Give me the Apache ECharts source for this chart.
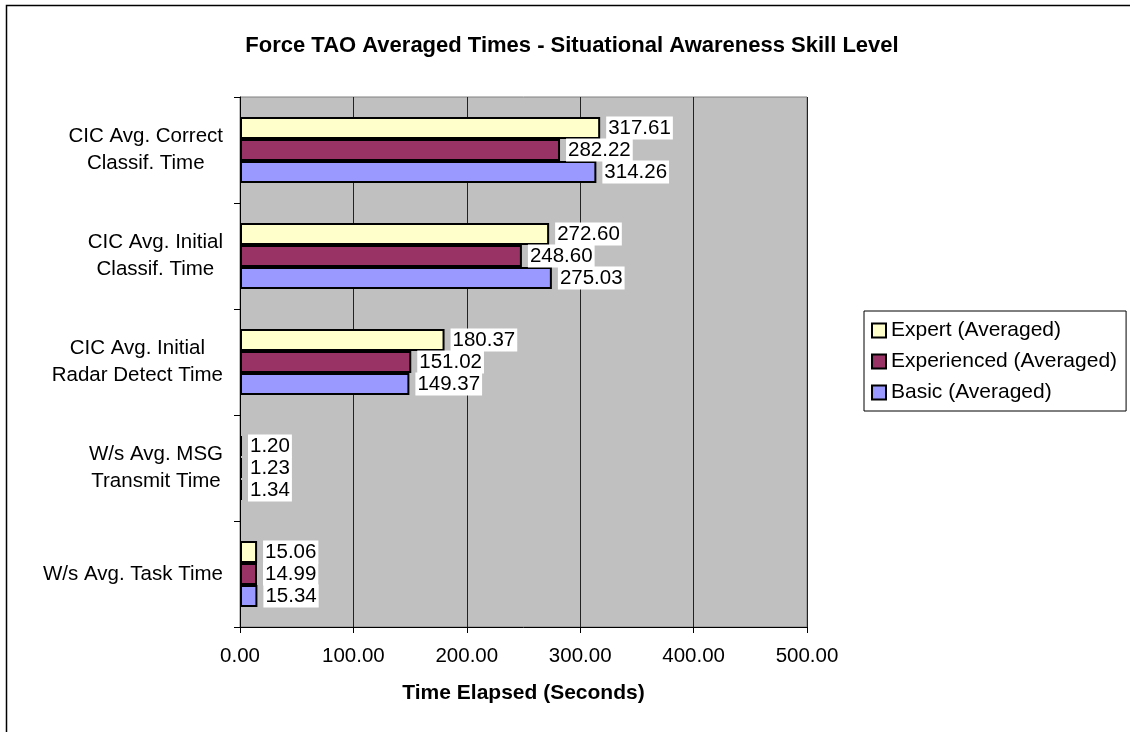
<!DOCTYPE html>
<html><head><meta charset="utf-8">
<script src="https://cdn.jsdelivr.net/npm/echarts@6/dist/echarts.min.js"></script>
<style>html,body{margin:0;padding:0;background:#fff}#c{width:1130px;height:732px}</style>
</head><body><div id="c"></div>
<script>
const categories = ['W/s Avg. Task Time', 'W/s Avg. MSG\nTransmit Time', 'CIC Avg. Initial\nRadar Detect Time', 'CIC Avg. Initial\nClassif. Time', 'CIC Avg. Correct\nClassif. Time'];
const expert = [15.06, 1.20, 180.37, 272.60, 317.61];
const experienced = [14.99, 1.23, 151.02, 248.60, 282.22];
const basic = [15.34, 1.34, 149.37, 275.03, 314.26];
const seriesNames = ['Expert (Averaged)', 'Experienced (Averaged)', 'Basic (Averaged)'];
const colors = ['#FFFFCC', '#993366', '#9999FF'];

const FONT = 'Liberation Sans, Arial, sans-serif';
const FS = 20.5;
const chart = echarts.init(document.getElementById('c'));
function mk(name, data, color) {
  return {
    name, type: 'bar', data,
    barGap: '0%', barCategoryGap: '37.7%', barMinHeight: 2,
    itemStyle: { color, borderColor: '#000', borderWidth: 2 },
    label: {
      show: true, position: 'right', distance: 6,
      formatter: p => p.value.toFixed(2),
      color: '#000', fontFamily: FONT, fontSize: FS,
      backgroundColor: '#fff', padding: [1, 2, 0, 2], lineHeight: 22
    }
  };
}
chart.setOption({
  animation: false,
  textStyle: { fontFamily: FONT },
  title: {
    text: 'Force TAO Averaged Times - Situational Awareness Skill Level',
    left: 567, top: 30, textAlign: 'center',
    textStyle: { fontFamily: FONT, fontSize: 22, fontWeight: 'bold', color: '#000' }
  },
  graphic: [{
    type: 'rect', shape: { x: 6.5, y: 5.5, width: 1300, height: 1000 },
    style: { fill: 'none', stroke: '#000', lineWidth: 1.5 }, silent: true, z: 100
  }],
  legend: {
    orient: 'vertical', left: 864, top: 311,
    data: seriesNames,
    itemWidth: 14, itemHeight: 14, itemGap: 10,
    padding: [9, 9, 8, 7],
    borderColor: '#000', borderWidth: 1,
    icon: 'rect',
    itemStyle: { borderColor: '#000', borderWidth: 2 },
    textStyle: { fontFamily: FONT, fontSize: 21, color: '#000' }
  },
  grid: {
    left: 240, right: 323, top: 97, bottom: 105,
    show: true, backgroundColor: '#C0C0C0', borderColor: '#808080', borderWidth: 1
  },
  xAxis: {
    type: 'value', min: 0, max: 500, interval: 100,
    name: 'Time Elapsed (Seconds)', nameLocation: 'middle', nameGap: 56,
    nameTextStyle: { fontFamily: FONT, fontSize: 21, fontWeight: 'bold', color: '#000' },
    axisLine: { show: true, lineStyle: { color: '#000', width: 1 } },
    axisTick: { show: true, length: 6, lineStyle: { color: '#000' } },
    axisLabel: { fontFamily: FONT, fontSize: FS, color: '#000', margin: 19, formatter: v => v.toFixed(2) },
    splitLine: { show: true, lineStyle: { color: '#222', width: 1 } }
  },
  yAxis: {
    type: 'category', data: categories,
    axisLine: { show: true, lineStyle: { color: '#000', width: 1 } },
    axisTick: { show: true, length: 6, lineStyle: { color: '#000' } },
    axisLabel: {
      fontFamily: FONT, fontSize: FS, color: '#000', margin: 17, align: 'right',
      formatter: v => v.split('\n').map(s => '{c|' + s + '}').join('\n'),
      rich: { c: { align: 'center', fontFamily: FONT, fontSize: FS, color: '#000', lineHeight: 27 } }
    },
    splitLine: { show: false }
  },
  series: [mk(seriesNames[0], expert, colors[0]), mk(seriesNames[1], experienced, colors[1]), mk(seriesNames[2], basic, colors[2])]
});
</script></body></html>
